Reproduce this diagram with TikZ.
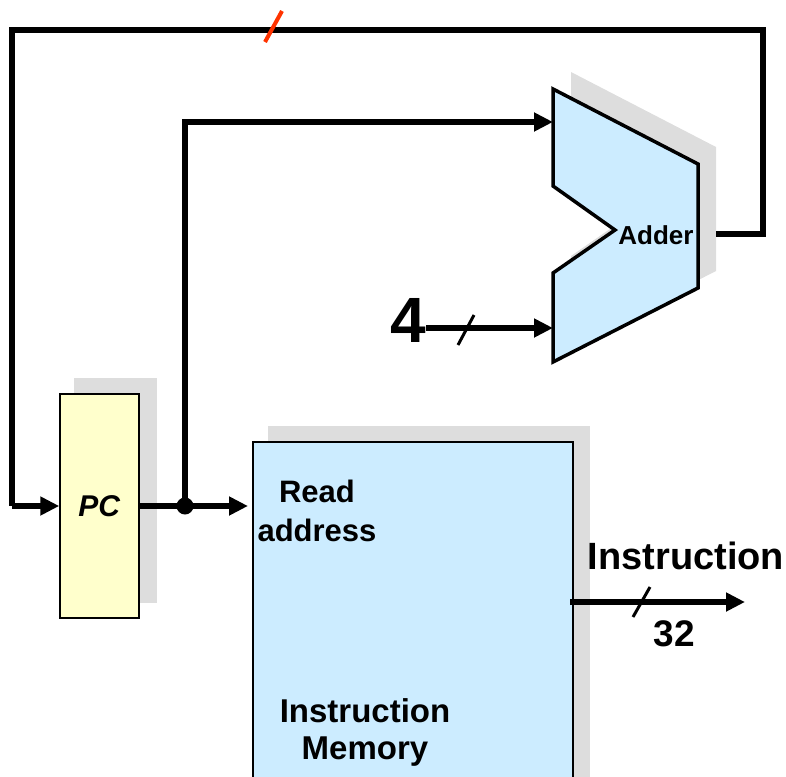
\documentclass[tikz,border=0pt]{standalone}
\usepackage{fontspec}
\setmainfont{Liberation Sans}
\usetikzlibrary{arrows.meta}
\definecolor{pcyellow}{RGB}{255,255,204}
\definecolor{memblue}{RGB}{204,236,255}
\definecolor{shadowgray}{RGB}{221,221,221}
\definecolor{slashred}{RGB}{255,51,0}
\begin{document}
\begin{tikzpicture}[x=1pt,y=-1pt,
  wire/.style={line width=5.5pt},
  arr/.style={wire,-{Triangle[length=19pt,width=18pt]}},
  busslash/.style={line width=3pt},
  shadowfill/.style={fill=shadowgray},
  pcbox/.style={draw,line width=1.5pt,fill=pcyellow,minimum width=79pt,minimum height=224pt,inner sep=0pt,font=\bfseries\fontsize{30}{34}\selectfont},
  membox/.style={draw,line width=1.5pt,fill=memblue,minimum width=320pt,minimum height=380pt,inner sep=0pt},
  adderstyle/.style={draw,line width=3.5pt,fill=memblue,line join=miter},
  junction/.style={circle,fill=black,minimum size=17pt,inner sep=0pt},
  lbl/.style={inner sep=0pt,align=center,font=\bfseries\fontsize{#1}{#1}\selectfont},
  lbl/.default=30
]
\useasboundingbox (0,0) rectangle (786,776);
\clip (0,0) rectangle (786,776);
% shadows
\fill[shadowfill] (74,378) rectangle (157,603);
\fill[shadowfill] (268,426) rectangle (590,800);
\fill[shadowfill] (571,72) -- (716,147) -- (716,271) -- (571,345) -- (571,256) -- (633,213) -- (571,169) -- cycle;
% boxes
\node[pcbox] (pc) at (99.5,506) {\textit{PC}};
\node[membox] (im) at (413,632) {};
\filldraw[adderstyle] (553,89) -- (698,164) -- (698,288) -- (553,362) -- (553,273) -- (615,230) -- (553,186) -- cycle;
\coordinate (in1) at (553,122);
\coordinate (in2) at (553,328);
\coordinate (aout) at (716,234);
\node[lbl=26] (addlbl) at (656,235) {Adder};
% labels
\node[lbl=31,font=\bfseries\fontsize{31}{39}\selectfont] (ra) at (317,511) {Read\\address};
\node[lbl=33,font=\bfseries\fontsize{33}{37}\selectfont] (imlbl) at (365,732) {Instruction\\Memory};
\node[lbl=64] (four) at (408,320) {4};
\node[lbl=38] (instr) at (686,556) {Instruction};
\node[lbl=37] (w32) at (674,634) {32};
% wires
\node[junction] (j) at (185,506) {};
\draw[wire] (aout) -- (763,234) -- (763,30) -- (12,30) -- (12,506) coordinate (pcin0);
\draw[arr] (pcin0) -- (pc.west);
\draw[wire] (pc.east) -- (j.center);
\coordinate (imin) at (248,506);
\draw[arr] (j.center) -- (imin);
\draw[arr] (j.center) |- (in1);
\draw[arr] (four.east |- in2) -- (in2);
\coordinate (iout) at (570,602);
\coordinate (iend) at (745,602);
\draw[arr] (iout) -- (iend);
% bus slashes
\draw[busslash,slashred,line width=4pt] (265,42) -- (282,11);
\draw[busslash] (458,345) -- (474,315);
\draw[busslash] (633,617) -- (650,587);
\end{tikzpicture}
\end{document}
